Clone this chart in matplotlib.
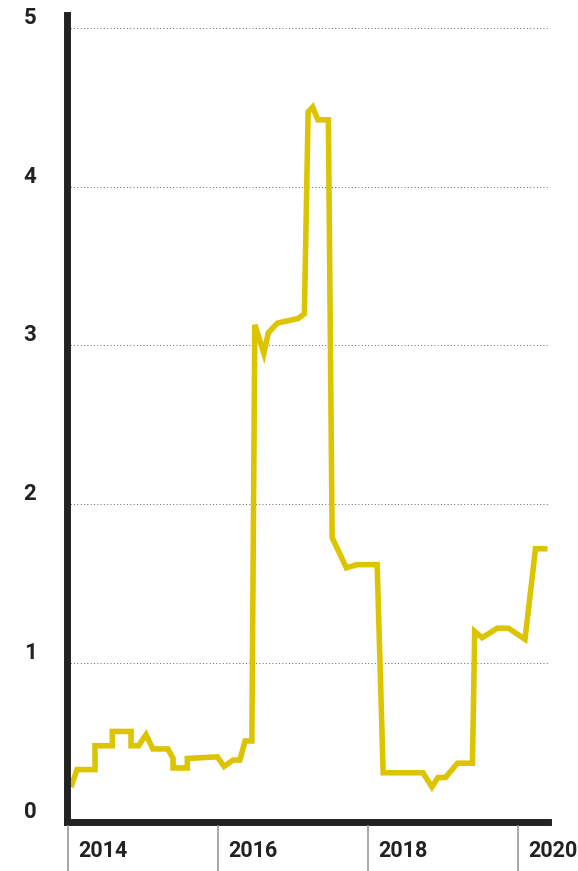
import matplotlib
matplotlib.use("Agg")
import matplotlib.pyplot as plt
import matplotlib.transforms as mtransforms

LINE_COLOR = "#dcc400"
INK = "#222222"
FONT = ["Liberation Sans Narrow", "Roboto", "DejaVu Sans"]

# fractional year of each vertex and the value at that point
years = [2014.04, 2014.12, 2014.36, 2014.36, 2014.59, 2014.59, 2014.84, 2014.84,
         2014.94, 2015.04, 2015.13, 2015.33, 2015.40, 2015.40, 2015.59, 2015.59,
         2015.99, 2016.08, 2016.20, 2016.29, 2016.36, 2016.45, 2016.49, 2016.61,
         2016.67, 2016.79, 2017.07, 2017.15, 2017.20, 2017.26, 2017.33, 2017.47,
         2017.52, 2017.71, 2017.85, 2018.12, 2018.20, 2018.73, 2018.85, 2018.93,
         2019.03, 2019.19, 2019.39, 2019.42, 2019.52, 2019.72, 2019.87, 2020.09,
         2020.23, 2020.39]
values = [0.22, 0.33, 0.33, 0.48, 0.48, 0.57, 0.57, 0.48,
          0.48, 0.55, 0.46, 0.46, 0.40, 0.34, 0.34, 0.40,
          0.41, 0.35, 0.39, 0.39, 0.51, 0.51, 3.13, 2.95,
          3.08, 3.14, 3.17, 3.20, 4.47, 4.50, 4.42, 4.42,
          1.79, 1.60, 1.62, 1.62, 0.31, 0.31, 0.22, 0.28,
          0.28, 0.37, 0.37, 1.20, 1.16, 1.22, 1.22, 1.15,
          1.72, 1.72]

year_ticks = [2014, 2016, 2018, 2020]
y_ticks = [0, 1, 2, 3, 4, 5]

W, H = 578, 871
fig = plt.figure(figsize=(W / 100, H / 100), dpi=100)
fig.patch.set_facecolor("white")
ax = fig.add_axes([66.5 / W, 49 / H, (547.5 - 66.5) / W, (822 - 15) / H])

ax.plot(years, values, color=LINE_COLOR, linewidth=4, solid_joinstyle="miter",
        solid_capstyle="butt", zorder=3)

ax.set_xlim(2013.98, 2020.39)
ax.set_ylim(0, 5.08)

# dotted guides at each whole unit
for v in y_ticks[1:]:
    ax.axhline(v, color="#666666", linewidth=0.7, linestyle=(0, (1, 2.4)), zorder=1)

for side in ("top", "right"):
    ax.spines[side].set_visible(False)
for side in ("left", "bottom"):
    ax.spines[side].set_linewidth(5)
    ax.spines[side].set_color(INK)
    ax.spines[side].set_zorder(4)

ax.set_xticks([])
ax.set_yticks([])

# value labels sit just above their guide line
ylab = mtransforms.offset_copy(ax.get_yaxis_transform(), fig=fig, x=0, y=-1, units="dots")
for v in y_ticks:
    ax.text(-30 / (547.5 - 66.5), v, str(v), transform=ylab, ha="right", va="bottom",
            fontsize=16, fontweight="bold", color=INK, family=FONT, clip_on=False)

# year ticks hang below the axis down to the edge of the figure
for yr in year_ticks:
    xf = fig.transFigure.inverted().transform(ax.transData.transform((yr, 0)))[0]
    fig.add_artist(plt.Line2D([xf, xf], [0, 45 / H], color="#999999", linewidth=1.2))
    fig.text(xf + 10 / W, 20 / H, str(yr), ha="left", va="center", fontsize=15.5,
             fontweight="bold", color=INK, family=FONT)

fig.savefig("out.png", dpi=100)
